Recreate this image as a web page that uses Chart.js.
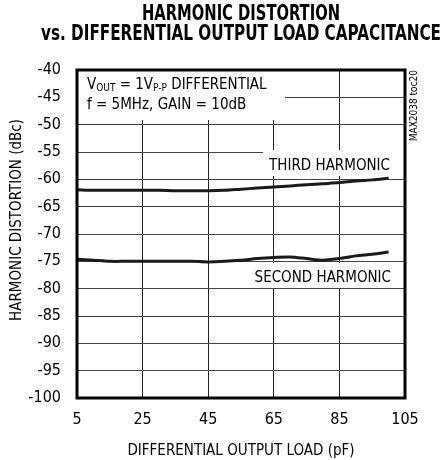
<!DOCTYPE html>
<html>
<head>
<meta charset="utf-8">
<script src="https://cdn.jsdelivr.net/npm/chart.js@4"></script>
<style>
  html, body { margin: 0; padding: 0; background: #fff; }
  #wrap { width: 443px; height: 460px; }
</style>
</head>
<body>
<div id="wrap"><canvas id="canvas-1" width="443" height="460"></canvas></div>
<script>
'use strict';

var loadPF = [5, 10, 15, 20, 25, 30, 35, 40, 45, 50, 55, 60, 65, 70, 75, 80, 85, 90, 95, 100];
var thirdHarmonic = [-61.9, -62.0, -62.0, -62.0, -62.0, -62.0, -62.1, -62.1, -62.1, -62.0, -61.8, -61.6, -61.4, -61.2, -61.0, -60.8, -60.6, -60.3, -60.1, -59.8];
var secondHarmonic = [-74.6, -74.8, -75.0, -75.0, -75.0, -75.0, -75.0, -75.0, -75.1, -75.0, -74.8, -74.5, -74.3, -74.2, -74.5, -74.8, -74.5, -74.0, -73.7, -73.3];
var xTicks = [5, 25, 45, 65, 85, 105];
var yTicks = [-100, -95, -90, -85, -80, -75, -70, -65, -60, -55, -50, -45, -40];

var FONT = "'DejaVu Sans Condensed', 'Liberation Sans', sans-serif";

function toPoints(ys) {
  return loadPF.map(function (x, i) { return { x: x, y: ys[i] }; });
}

// text squeezed to a given width (title is a condensed black face)
function squeezed(c, text, cx, y, width) {
  var w = c.measureText(text).width;
  c.save();
  c.translate(cx, y);
  c.scale(width / w, 1);
  c.fillText(text, 0, 0);
  c.restore();
}

// white boxes behind labels, the labels themselves, the frame
var notes = {
  id: 'notes',
  beforeDatasetsDraw: function (chart) {
    var c = chart.ctx, a = chart.chartArea;
    c.save();
    c.fillStyle = '#fff';
    c.fillRect(a.left, a.top, 208, 50);
    c.fillRect(263, 150, a.right - 263, 26);
    c.fillRect(250, 263, 145, 25);
    c.restore();
  },
  afterDraw: function (chart) {
    var c = chart.ctx, a = chart.chartArea;
    c.save();
    c.fillStyle = '#000';
    c.textBaseline = 'alphabetic';
    c.textAlign = 'left';

    // VOUT = 1VP-P DIFFERENTIAL
    var x = 87, y = 89;
    var parts = [['V', 15, 0], ['OUT', 10, 2], [' = 1V', 15, 0], ['P-P', 10, 2], [' DIFFERENTIAL', 15, 0]];
    parts.forEach(function (p) {
      c.font = p[1] + 'px ' + FONT;
      c.fillText(p[0], x, y + p[2]);
      x += c.measureText(p[0]).width;
    });
    c.font = '15px ' + FONT;
    c.fillText('f = 5MHz, GAIN = 10dB', 87, 109);

    c.textAlign = 'right';
    c.fillText('THIRD HARMONIC', 390, 170);
    c.fillText('SECOND HARMONIC', 391, 282);

    // y axis title, sits a little above the plot centre in the original
    c.save();
    c.translate(21, 220);
    c.rotate(-Math.PI / 2);
    c.textAlign = 'center';
    c.fillText('HARMONIC DISTORTION (dBc)', 0, 0);
    c.restore();

    c.save();
    c.translate(417, 70);
    c.rotate(-Math.PI / 2);
    c.font = '10px ' + FONT;
    c.textAlign = 'right';
    c.fillText('MAX2038 toc20', 0, 0);
    c.restore();

    c.font = 'bold 21px ' + FONT;
    c.textAlign = 'center';
    var cx = (a.left + a.right) / 2;
    squeezed(c, 'HARMONIC DISTORTION', cx, 20, 198);
    squeezed(c, 'vs. DIFFERENTIAL OUTPUT LOAD CAPACITANCE', cx, 40, 400);

    c.lineWidth = 3;
    c.strokeStyle = '#000';
    c.strokeRect(a.left, a.top, a.right - a.left, a.bottom - a.top);
    c.restore();
  }
};

var ctx = document.getElementById('canvas-1');
var chart = new Chart(ctx, {
  type: 'line',
  data: {
    datasets: [
      {
        label: 'THIRD HARMONIC',
        data: toPoints(thirdHarmonic),
        borderColor: '#1a1a1a',
        borderWidth: 3,
        pointRadius: 0,
        tension: 0.3
      },
      {
        label: 'SECOND HARMONIC',
        data: toPoints(secondHarmonic),
        borderColor: '#1a1a1a',
        borderWidth: 3,
        pointRadius: 0,
        tension: 0.3
      }
    ]
  },
  options: {
    responsive: false,
    animation: false,
    layout: { padding: { top: 70, right: 38, bottom: 0, left: 0 } },
    plugins: {
      legend: { display: false },
      tooltip: { enabled: false }
    },
    scales: {
      x: {
        type: 'linear',
        min: 5,
        max: 105,
        afterBuildTicks: function (s) { s.ticks = xTicks.map(function (v) { return { value: v }; }); },
        afterFit: function (s) { s.height = 62; },
        grid: { color: '#222', lineWidth: 1, drawTicks: false },
        border: { display: false },
        ticks: { color: '#000', padding: 12, maxRotation: 0, font: { family: FONT, size: 16 } },
        title: {
          display: true,
          text: 'DIFFERENTIAL OUTPUT LOAD (pF)',
          color: '#000',
          padding: { top: 4, bottom: 0 },
          font: { family: FONT, size: 15 }
        }
      },
      y: {
        min: -100,
        max: -40,
        afterBuildTicks: function (s) { s.ticks = yTicks.map(function (v) { return { value: v }; }); },
        afterFit: function (s) { s.width = 77; },
        grid: { color: '#444', lineWidth: 1, drawTicks: false },
        border: { display: false },
        ticks: { color: '#000', padding: 16, font: { family: FONT, size: 16 } }
      }
    }
  },
  plugins: [notes]
});
</script>
</body>
</html>
